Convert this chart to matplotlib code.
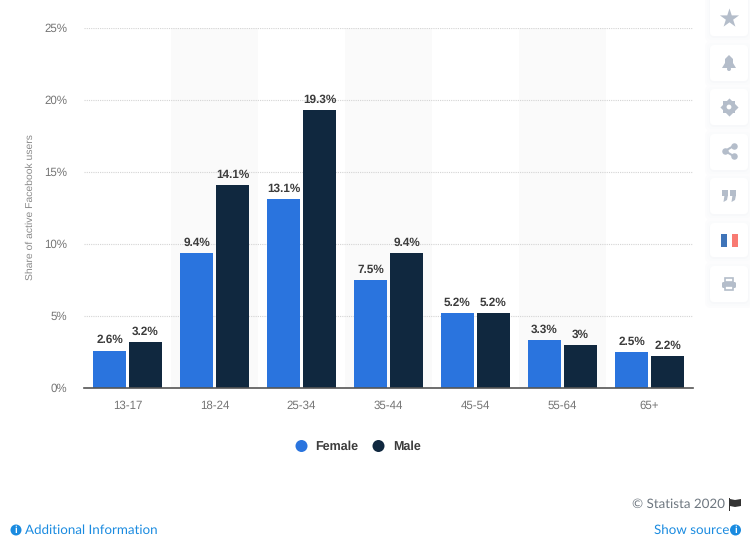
#!/usr/bin/env python3

import numpy as np
import matplotlib
matplotlib.use('Agg')
import matplotlib.pyplot as plt
from matplotlib.patches import FancyBboxPatch, Rectangle, Circle, Polygon

categories = ['13-17', '18-24', '25-34', '35-44', '45-54', '55-64', '65+']
female = [2.6, 9.4, 13.1, 7.5, 5.2, 3.3, 2.5]
male = [3.2, 14.1, 19.3, 9.4, 5.2, 3.0, 2.2]
female_labels = ['2.6%', '9.4%', '13.1%', '7.5%', '5.2%', '3.3%', '2.5%']
male_labels = ['3.2%', '14.1%', '19.3%', '9.4%', '5.2%', '3%', '2.2%']
yticks = [0, 5, 10, 15, 20, 25]
ytick_labels = ['0%', '5%', '10%', '15%', '20%', '25%']

W, H = 750, 544
BLUE = '#2a74de'
NAVY = '#10283f'
ICON = '#b4bdca'
LINK = '#1a8be0'
FOOT = ['Lato', 'DejaVu Sans']

plt.rcParams['font.family'] = ['Liberation Sans', 'DejaVu Sans']
plt.rcParams['text.hinting'] = 'no_hinting'
plt.rcParams['text.kerning_factor'] = 16  # kerning pulls "3%" together otherwise
fig = plt.figure(figsize=(W / 100, H / 100), dpi=100, facecolor='white')

# main chart, placed in pixels
ax = fig.add_axes([84 / W, 1 - 388 / H, 609 / W, 360 / H])
x = np.arange(len(categories))
bw = 0.38
off = 0.207
for i in x[1::2]:
    ax.axvspan(i - 0.5, i + 0.5, color='#fafafa', lw=0, zorder=0)
ax.bar(x - off, female, bw, color=BLUE, zorder=3)
ax.bar(x + off, male, bw, color=NAVY, zorder=3)
for i in x:
    ax.text(i - off, female[i] + 0.33, female_labels[i], ha='center', va='bottom',
            fontsize=8.5, fontweight='bold', color='#3c3c3c', zorder=4)
    ax.text(i + off, male[i] + 0.33, male_labels[i], ha='center', va='bottom',
            fontsize=8.5, fontweight='bold', color='#3c3c3c', zorder=4)

ax.set_xlim(-0.5, 6.5)
ax.set_ylim(0, 25)
ax.set_yticks(yticks, ytick_labels)
ax.set_xticks(x, categories)
ax.tick_params(length=0, labelsize=8.3, labelcolor='#757575')
ax.tick_params(axis='x', pad=8.5)
ax.tick_params(axis='y', pad=12)
ax.grid(axis='y', color='#d4d4d4', lw=0.8, ls=(0, (1, 1)), zorder=1)
for s in ['top', 'right', 'left']:
    ax.spines[s].set_visible(False)
ax.spines['bottom'].set_color('#555555')
ax.spines['bottom'].set_linewidth(1.2)
ax.spines['bottom'].set_zorder(5)
ax.set_facecolor('none')

# overlay in pixel coordinates for page furniture
ov = fig.add_axes([0, 0, 1, 1])
ov.set_xlim(0, W)
ov.set_ylim(H, 0)
ov.axis('off')
ov.patch.set_alpha(0)

ov.text(30, 207.5, 'Share of active Facebook users', rotation=90, ha='center', va='center',
        fontsize=7.5, color='#8a8a8a')

# legend
ov.add_patch(Circle((301.5, 446), 6, color=BLUE, lw=0))
ov.text(315, 447, 'Female', ha='left', va='center', fontsize=9, fontweight='bold', color='#3c3c3c')
ov.add_patch(Circle((378.5, 446), 6, color=NAVY, lw=0))
ov.text(393, 447, 'Male', ha='left', va='center', fontsize=9, fontweight='bold', color='#3c3c3c')

# footer
ov.text(725, 504.5, '© Statista 2020', ha='right', va='center', fontsize=9.6,
        color='#6e7780', family=FOOT)
ov.add_patch(Rectangle((729, 498), 1.3, 13, color='#333333', lw=0))
ov.add_patch(Polygon([(730, 499), (735, 500), (741, 499), (741, 506), (735, 507), (730, 506)],
                     color='#333333', lw=0))
ov.text(25, 530, 'Additional Information', ha='left', va='center', fontsize=9.6,
        color=LINK, family=FOOT)
ov.text(729, 530, 'Show source', ha='right', va='center', fontsize=9.6,
        color=LINK, family=FOOT)
for cx in (16, 735.5):
    ov.add_patch(Circle((cx, 530), 5.5, color=LINK, lw=0))
    ov.text(cx, 530, 'i', ha='center', va='center', fontsize=7, fontweight='bold', color='white')

# sidebar cards
cards = [(-5, 36), (45, 81), (89, 125), (134, 170), (178, 214), (223, 257), (266, 302)]
for top, bot in cards:
    for grow, col in ((5, '#fcfcfd'), (3, '#fafbfc'), (1, '#f7f8fa')):
        ov.add_patch(FancyBboxPatch((710 - grow, top - grow + 1), 38 + 2 * grow, bot - top + 2 * grow,
                                    boxstyle='round,pad=0,rounding_size=6', fc=col, ec='none'))
    ov.add_patch(FancyBboxPatch((710, top), 38, bot - top,
                                boxstyle='round,pad=0,rounding_size=4', fc='white', ec='none'))

# star
ov.scatter([729], [17.5], marker='*', s=210, color=ICON, lw=0)
# bell
ov.add_patch(Polygon([(722, 68), (725, 63), (725, 59), (729, 55), (733, 59), (733, 63), (736, 68)],
                     color=ICON, lw=0))
ov.add_patch(Circle((729, 69), 2, color=ICON, lw=0))
# gear
for ang in (0, 45):
    ov.scatter([729], [107], marker=(4, 0, ang), s=170, color=ICON, lw=0)
ov.add_patch(Circle((729, 107), 2.4, color='white', lw=0))
# share
ov.plot([733.5, 725, 733.5], [146, 151, 156], color=ICON, lw=1.5)
ov.scatter([733.5, 725, 733.5], [146, 151, 156], s=22, color=ICON, lw=0)
# quotes
for qx in (722, 730):
    ov.add_patch(Rectangle((qx, 189.5), 6, 6, color=ICON, lw=0))
    ov.add_patch(Polygon([(qx + 2.5, 195), (qx + 6, 195), (qx + 5, 200), (qx + 1.5, 202)], color=ICON, lw=0))
# flag
ov.add_patch(Rectangle((721, 234), 6, 13, color='#3f74b8', lw=0))
ov.add_patch(Rectangle((727, 234), 5, 13, color='white', lw=0))
ov.add_patch(Rectangle((732, 234), 6, 13, color='#f87a72', lw=0))
# printer
ov.add_patch(Rectangle((725, 278), 8, 4, fc='none', ec=ICON, lw=1.2))
ov.add_patch(FancyBboxPatch((722, 282), 14, 6, boxstyle='round,pad=0,rounding_size=1.5', fc=ICON, ec='none'))
ov.add_patch(Rectangle((725, 286), 8, 4, fc='white', ec=ICON, lw=1.2))

fig.savefig('out.png', dpi=100, facecolor='white')
